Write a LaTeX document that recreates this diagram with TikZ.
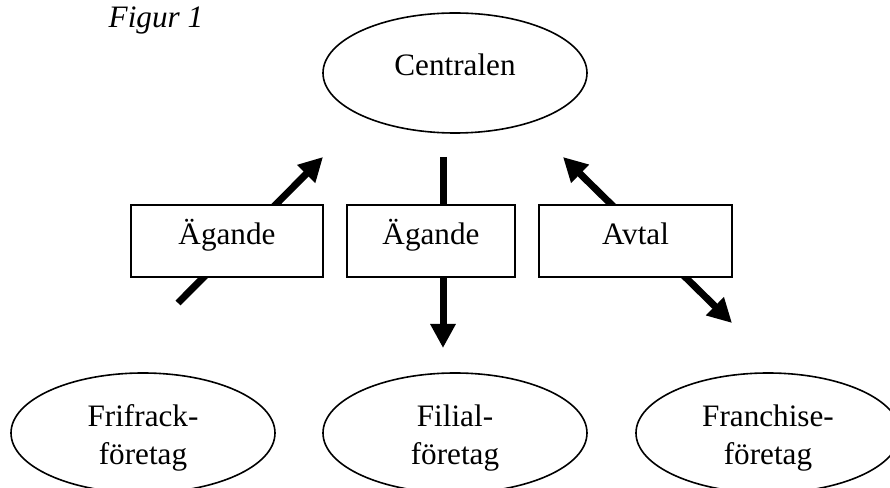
\documentclass[tikz,border=0pt]{standalone}
\usepackage{fontspec}
\setmainfont{Liberation Serif}
\usetikzlibrary{shapes.geometric,arrows.meta}
\tikzset{
    org-oval/.style = {draw, ellipse, line width=1.2pt, minimum width=198pt, minimum height=90pt, inner sep=0pt, align=center},
    rel-box/.style = {draw, fill=white, rectangle, line width=1.5pt, minimum height=54pt, inner sep=0pt, text height=12pt, text depth=6pt},
    big-arrow/.style = {line width=5.25pt, -{Triangle[length=18pt,width=18pt]}},
}
\newcommand{\ovalgap}{\rule{0pt}{23.5pt}}

\begin{document}
\begin{tikzpicture}[x=0.75pt, y=-0.75pt, font=\fontsize{23.4}{28.5}\selectfont]
\useasboundingbox (0,0) rectangle (890,488);
\clip (0,0) rectangle (890,488);

\node[anchor=base west, font=\fontsize{23.4}{28.5}\selectfont\itshape] (title) at (104,28) {Figur 1};

\node[org-oval, text height=15pt, text depth=10.5pt] (central) at (455,73) {Centralen};
\node[org-oval] (frifrack) at (143,433) {\ovalgap Frifrack-\\företag};
\node[org-oval] (filial) at (455,433) {\ovalgap Filial-\\företag};
\node[org-oval] (franchise) at (768,433) {\ovalgap Franchise-\\företag};

% arrow ends
\coordinate (friA) at (178,303);
\coordinate (friB) at (323,157);
\coordinate (filA) at (443,157);
\coordinate (filB) at (443,348);
\coordinate (fraA) at (563,157);
\coordinate (fraB) at (732,323);

\draw[big-arrow] (friA) -- (friB);
\draw[big-arrow] (filA) -- (filB);
\draw[big-arrow, {Triangle[length=18pt,width=18pt]}-{Triangle[length=18pt,width=18pt]}] (fraA) -- (fraB);

\node[rel-box, minimum width=144pt] (own1) at (227,241) {Ägande};
\node[rel-box, minimum width=126pt] (own2) at (431,241) {Ägande};
\node[rel-box, minimum width=145pt] (deal) at (635.5,241) {Avtal};
\end{tikzpicture}
\end{document}
